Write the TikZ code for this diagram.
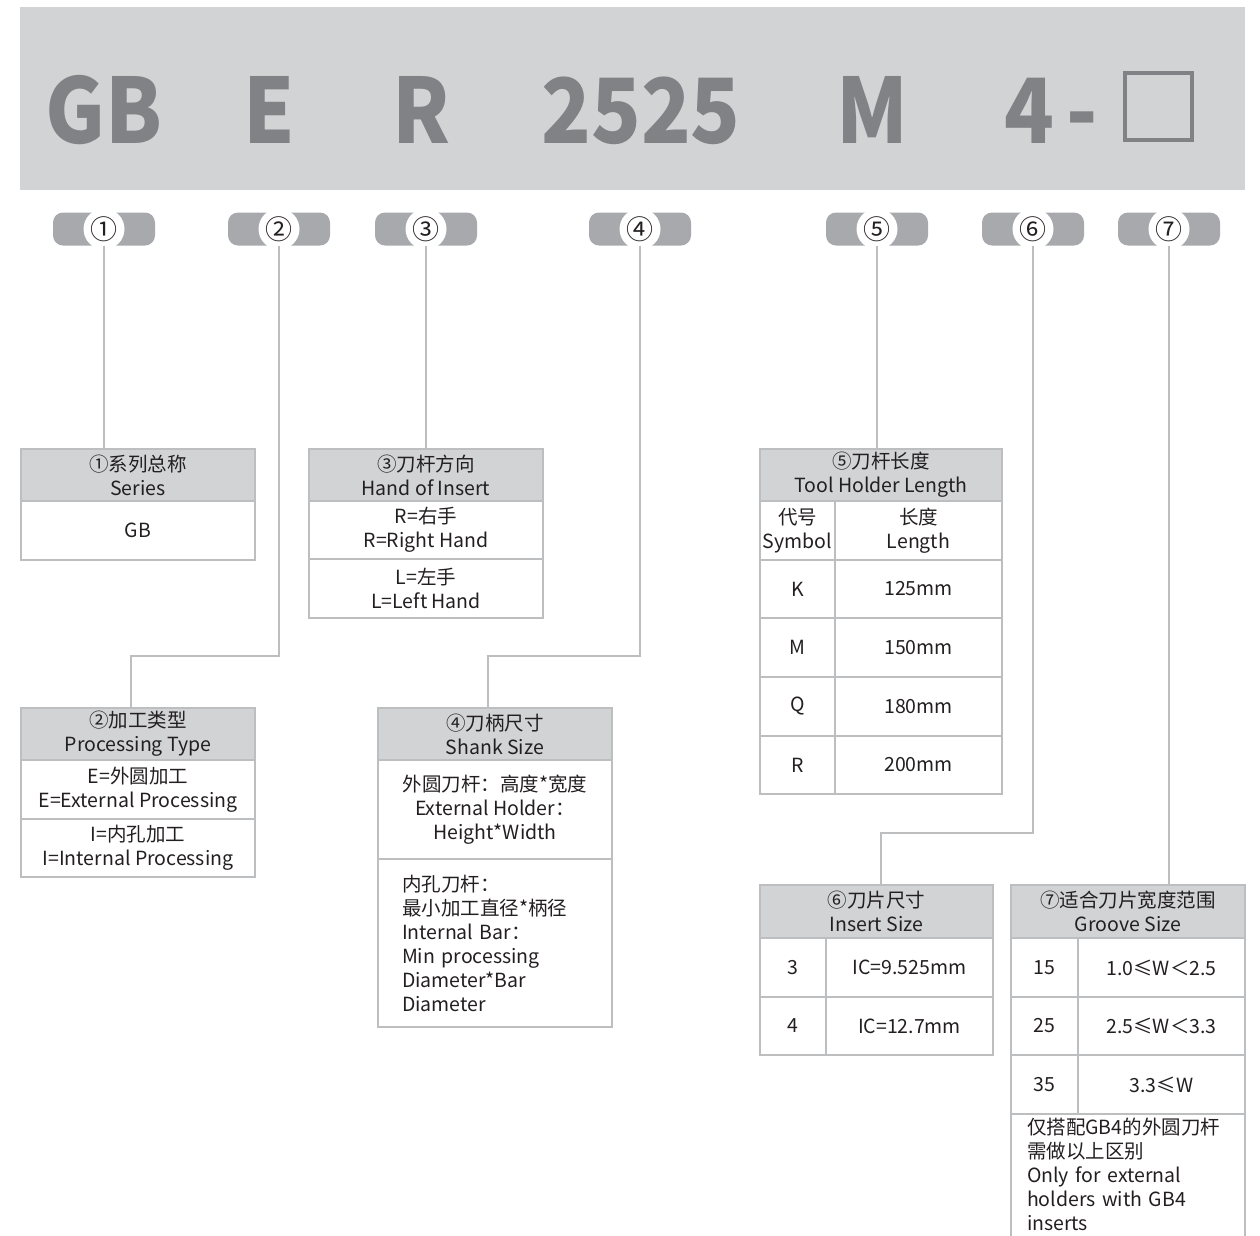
\documentclass[tikz,border=0pt]{standalone}
\usepackage{fontspec}
\setmainfont{Noto Sans CJK SC}
\usetikzlibrary{positioning}
\definecolor{bannergray}{HTML}{D1D3D4}
\definecolor{codegray}{HTML}{808285}
\definecolor{pillgray}{HTML}{A7A9AC}
\definecolor{rulegray}{HTML}{BCBEC0}
\definecolor{inkdark}{HTML}{231F20}
\newcommand{\narrow}[1]{\scalebox{0.91}[1]{#1}}

\begin{document}
\begin{tikzpicture}[
    x=1pt,y=-1pt,
    code/.style={text=codegray,font=\fontsize{90}{90}\selectfont\bfseries,anchor=base,inner sep=0},
    pill/.style={fill=pillgray,rounded corners=10pt,minimum width=102pt,minimum height=33pt,inner sep=0},
    num/.style={circle,fill=white,minimum size=41pt,inner sep=0,text=inkdark,font=\fontsize{27}{27}\selectfont},
    link/.style={draw=rulegray,line width=1.2pt},
    cell/.style={draw=rulegray,line width=1.2pt,anchor=north west,inner sep=0,outer sep=0,align=center,
      text=inkdark,font=\fontsize{19.5}{24}\selectfont},
    head/.style={cell,fill=bannergray}]
  \path[use as bounding box,clip] (0,0) rectangle (1260,1235);
  % banner with the code
  \fill[bannergray] (20,7) rectangle (1245,190);
  \node[code] (cGB) at (104,143) {\narrow{GB}};
  \node[code] (cE) at (269,143) {\narrow{E}};
  \node[code] (cR) at (421,143) {\narrow{R}};
  \node[code] (cSize) at (641,143) {\narrow{2525}};
  \node[code] (cM) at (872,143) {\narrow{M}};
  \node[code] (cFour) at (1029,143) {\narrow{4}};
  \node[code] (cDash) at (1082,143) {\narrow{-}};
  \draw[codegray,line width=4pt] (1125,73) rectangle (1192,140);

  % numbered pills
  \node[pill] (p1) at (104,229) {};
  \node[num] (n1) at (p1) {①};
  \node[pill] (p2) at (279,229) {};
  \node[num] (n2) at (p2) {②};
  \node[pill] (p3) at (426,229) {};
  \node[num] (n3) at (p3) {③};
  \node[pill] (p4) at (640,229) {};
  \node[num] (n4) at (p4) {④};
  \node[pill] (p5) at (877,229) {};
  \node[num] (n5) at (p5) {⑤};
  \node[pill] (p6) at (1033,229) {};
  \node[num] (n6) at (p6) {⑥};
  \node[pill] (p7) at (1169,229) {};
  \node[num] (n7) at (p7) {⑦};

  % 1 series
  \node[head,minimum width=234pt,minimum height=52pt] (s1h) at (21,449) {①系列总称\\Series};
  \node[cell,minimum width=234pt,minimum height=59pt] (s1a) at (s1h.south west) {GB};

  % 2 processing type
  \node[head,minimum width=234pt,minimum height=52pt] (s2h) at (21,708) {②加工类型\\Processing Type};
  \node[cell,minimum width=234pt,minimum height=59pt] (s2a) at (s2h.south west) {E=外圆加工\\E=External Processing};
  \node[cell,minimum width=234pt,minimum height=58pt] (s2b) at (s2a.south west) {I=内孔加工\\I=Internal Processing};

  % 3 hand
  \node[head,minimum width=234pt,minimum height=52pt] (s3h) at (309,449) {③刀杆方向\\Hand of Insert};
  \node[cell,minimum width=234pt,minimum height=58pt] (s3a) at (s3h.south west) {R=右手\\R=Right Hand};
  \node[cell,minimum width=234pt,minimum height=59pt] (s3b) at (s3a.south west) {L=左手\\L=Left Hand};

  % 4 shank
  \node[head,minimum width=234pt,minimum height=52pt] (s4h) at (378,708) {④刀柄尺寸\\Shank Size};
  \node[cell,minimum width=234pt,minimum height=99pt] (s4a) at (s4h.south west)
    {外圆刀杆：高度*宽度\\External Holder：\\Height*Width};
  \node[cell,minimum width=234pt,minimum height=168pt,text width=186pt,align=left] (s4b) at (s4a.south west)
    {内孔刀杆：\\最小加工直径*柄径\\Internal Bar：\\Min processing\\Diameter*Bar\\Diameter};

  % 5 length
  \node[head,minimum width=242pt,minimum height=52pt] (s5h) at (760,449) {⑤刀杆长度\\Tool Holder Length};
  \node[cell,minimum width=75pt,minimum height=59pt] (s5s) at (s5h.south west) {代号\\Symbol};
  \node[cell,minimum width=167pt,minimum height=59pt] (s5l) at (s5s.north east) {长度\\Length};
  \node[cell,minimum width=75pt,minimum height=58pt] (s5k) at (s5s.south west) {K};
  \node[cell,minimum width=167pt,minimum height=58pt] (s5kv) at (s5k.north east) {125mm};
  \node[cell,minimum width=75pt,minimum height=59pt] (s5m) at (s5k.south west) {M};
  \node[cell,minimum width=167pt,minimum height=59pt] (s5mv) at (s5m.north east) {150mm};
  \node[cell,minimum width=75pt,minimum height=59pt] (s5q) at (s5m.south west) {Q};
  \node[cell,minimum width=167pt,minimum height=59pt] (s5qv) at (s5q.north east) {180mm};
  \node[cell,minimum width=75pt,minimum height=58pt] (s5r) at (s5q.south west) {R};
  \node[cell,minimum width=167pt,minimum height=58pt] (s5rv) at (s5r.north east) {200mm};

  % 6 insert size
  \node[head,minimum width=233pt,minimum height=53pt] (s6h) at (760,885) {⑥刀片尺寸\\Insert Size};
  \node[cell,minimum width=66pt,minimum height=59pt] (s6a) at (s6h.south west) {3};
  \node[cell,minimum width=167pt,minimum height=59pt] (s6av) at (s6a.north east) {IC=9.525mm};
  \node[cell,minimum width=66pt,minimum height=58pt] (s6b) at (s6a.south west) {4};
  \node[cell,minimum width=167pt,minimum height=58pt] (s6bv) at (s6b.north east) {IC=12.7mm};

  % 7 groove size
  \node[head,minimum width=234pt,minimum height=53pt] (s7h) at (1011,885) {⑦适合刀片宽度范围\\Groove Size};
  \node[cell,minimum width=67pt,minimum height=59pt] (s7a) at (s7h.south west) {15};
  \node[cell,minimum width=167pt,minimum height=59pt] (s7av) at (s7a.north east) {1.0≤W＜2.5};
  \node[cell,minimum width=67pt,minimum height=58pt] (s7b) at (s7a.south west) {25};
  \node[cell,minimum width=167pt,minimum height=58pt] (s7bv) at (s7b.north east) {2.5≤W＜3.3};
  \node[cell,minimum width=67pt,minimum height=59pt] (s7c) at (s7b.south west) {35};
  \node[cell,minimum width=167pt,minimum height=59pt] (s7cv) at (s7c.north east) {3.3≤W};
  \node[cell,draw=none,minimum width=234pt,text width=202pt,align=left,inner xsep=16pt,inner ysep=4pt] (s7n) at (s7c.south west)
    {仅搭配GB4的外圆刀杆\\需做以上区别\\Only for external\\holders with GB4\\inserts};
  \draw[link] (s7n.north west) -- (s7n.north west |- 0,1250);
  \draw[link] (s7n.north east) -- (s7n.north east |- 0,1250);

  % leader lines
  \coordinate (k2) at (131,656);
  \coordinate (k4) at (488,656);
  \coordinate (k6) at (881,833);
  \draw[link] (p1.south) -- (p1.south |- s1h.north);
  \draw[link] (p2.south) |- (k2) -- (k2 |- s2h.north);
  \draw[link] (p3.south) -- (p3.south |- s3h.north);
  \draw[link] (p4.south) |- (k4) -- (k4 |- s4h.north);
  \draw[link] (p5.south) -- (p5.south |- s5h.north);
  \draw[link] (p6.south) |- (k6) -- (k6 |- s6h.north);
  \draw[link] (p7.south) -- (p7.south |- s7h.north);
\end{tikzpicture}
\end{document}
